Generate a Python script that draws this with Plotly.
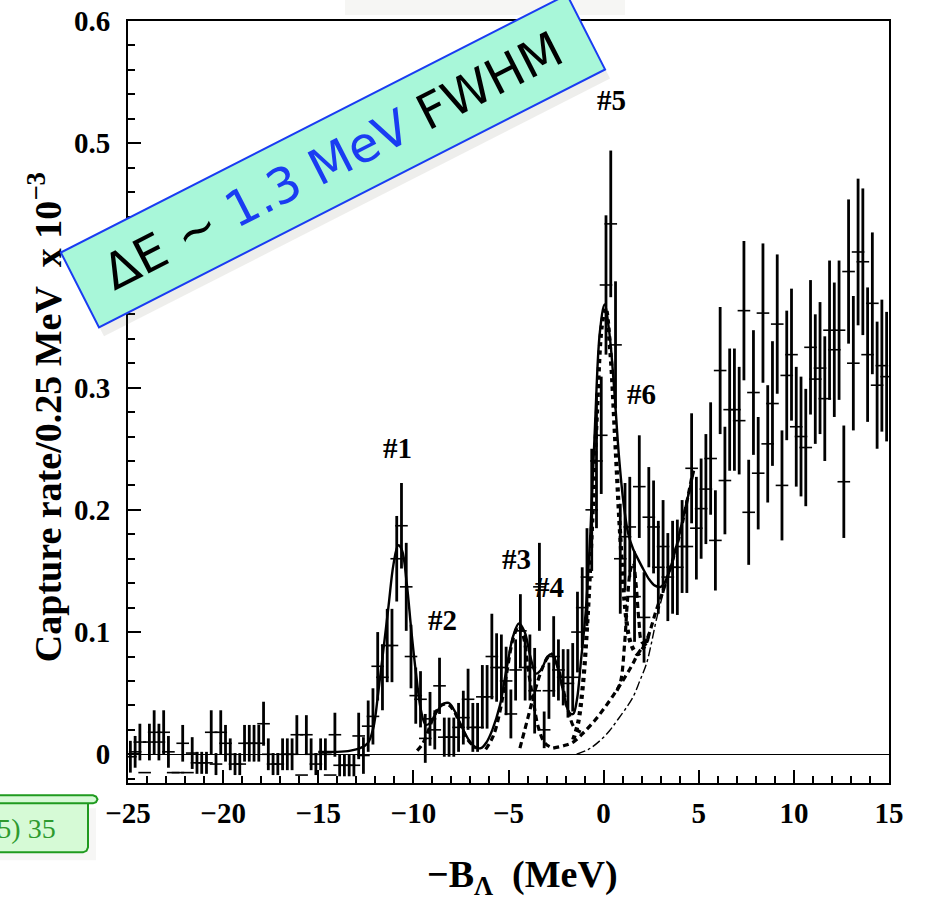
import plotly.graph_objects as go

# ---------------- data ----------------
# histogram: 0.25 MeV bins, first bin centre at -24.875 MeV
bin_first_center = -24.875
bin_width = 0.25

rate = [
    -0.002, 0.002, 0.010, -0.015, 0.010, 0.018, 0.010, 0.018, 0.002, -0.015,
    -0.015, 0.009, -0.015, 0.001, -0.007, -0.007, -0.007, 0.018, -0.008, 0.018,
    0.009, 0.000, -0.008, -0.008, 0.009, 0.009, 0.009, 0.009, 0.025, 0.000,
    -0.008, -0.008, 0.000, 0.000, 0.000, 0.016, -0.017, 0.016, 0.000, -0.008,
    0.000, 0.000, -0.017, 0.016, -0.009, -0.009, -0.009, -0.009, 0.015, -0.001,
    0.023, 0.031, 0.072, 0.063, 0.089, 0.089, 0.160, 0.187, 0.137, 0.080,
    0.048, 0.045, 0.013, 0.029, 0.020, 0.056, 0.014, 0.014, 0.014, 0.022,
    0.030, 0.045, 0.022, 0.022, 0.047, 0.047, 0.080, 0.071, 0.071, 0.060,
    0.033, 0.069, 0.101, 0.071, 0.071, 0.052, 0.137, 0.020, 0.052, 0.080,
    0.069, 0.063, 0.058, 0.063, 0.100, 0.120, 0.145, 0.200, 0.240, 0.261,
    0.384, 0.434, 0.335, 0.160, 0.178, 0.186, 0.129, 0.219, 0.112, 0.194,
    0.186, 0.153, 0.170, 0.145, 0.153, 0.153, 0.170, 0.170, 0.234, 0.185,
    0.201, 0.217, 0.242, 0.175, 0.314, 0.224, 0.282, 0.282, 0.273, 0.363,
    0.198, 0.296, 0.230, 0.361, 0.254, 0.287, 0.352, 0.220, 0.310, 0.327,
    0.268, 0.260, 0.251, 0.333, 0.307, 0.316, 0.291, 0.347, 0.331, 0.347,
    0.223, 0.395, 0.320, 0.411, 0.403, 0.327, 0.369, 0.302, 0.318, 0.309,
]
rate_err = [
    0.013, 0.013, 0.015, 0.000, 0.015, 0.018, 0.015, 0.018, 0.013, 0.000,
    0.000, 0.015, 0.000, 0.013, 0.009, 0.009, 0.009, 0.018, 0.009, 0.018,
    0.015, 0.013, 0.009, 0.009, 0.015, 0.015, 0.015, 0.015, 0.018, 0.013,
    0.009, 0.009, 0.013, 0.013, 0.013, 0.016, 0.000, 0.016, 0.013, 0.009,
    0.013, 0.013, 0.000, 0.018, 0.009, 0.009, 0.009, 0.009, 0.019, 0.015,
    0.021, 0.023, 0.028, 0.027, 0.030, 0.030, 0.035, 0.035, 0.036, 0.026,
    0.023, 0.023, 0.020, 0.022, 0.016, 0.023, 0.016, 0.016, 0.016, 0.020,
    0.022, 0.025, 0.020, 0.020, 0.026, 0.026, 0.035, 0.028, 0.027, 0.028,
    0.020, 0.025, 0.030, 0.027, 0.027, 0.035, 0.036, 0.015, 0.023, 0.033,
    0.025, 0.023, 0.028, 0.028, 0.033, 0.033, 0.040, 0.050, 0.055, 0.048,
    0.057, 0.060, 0.052, 0.045, 0.044, 0.041, 0.037, 0.042, 0.037, 0.041,
    0.038, 0.038, 0.038, 0.036, 0.038, 0.039, 0.038, 0.038, 0.045, 0.042,
    0.041, 0.045, 0.046, 0.041, 0.052, 0.044, 0.050, 0.050, 0.044, 0.057,
    0.043, 0.051, 0.046, 0.057, 0.048, 0.051, 0.057, 0.045, 0.053, 0.054,
    0.049, 0.049, 0.048, 0.055, 0.053, 0.054, 0.051, 0.057, 0.055, 0.057,
    0.046, 0.059, 0.055, 0.060, 0.060, 0.055, 0.058, 0.052, 0.054, 0.053,
]

# total fit (solid)
fit_x = [-15.0, -14.0, -13.3, -12.8, -12.4, -12.1, -11.85, -11.58, -11.3, -11.05,
         -10.8, -10.6, -10.35, -10.1, -9.83, -9.6, -9.35, -9.1, -8.8, -8.45,
         -8.15, -7.85, -7.5, -7.1, -6.75, -6.45, -6.15, -5.85, -5.45, -5.1,
         -4.75, -4.45, -4.15, -3.85, -3.55, -3.25, -2.95, -2.7, -2.4, -2.1,
         -1.8, -1.6, -1.4, -1.2, -0.95, -0.7, -0.45, -0.2, 0.05, 0.3,
         0.55, 0.8, 1.05, 1.3, 1.55, 1.8, 2.1, 2.4, 2.7, 3.0,
         3.3, 3.6, 3.9, 4.2, 4.5, 4.75]
fit_y = [0.002, 0.002, 0.003, 0.005, 0.009, 0.022, 0.050, 0.085, 0.122, 0.155,
         0.171, 0.167, 0.140, 0.100, 0.062, 0.036, 0.024, 0.026, 0.034, 0.041,
         0.042, 0.036, 0.024, 0.012, 0.006, 0.005, 0.010, 0.020, 0.040, 0.070,
         0.097, 0.107, 0.100, 0.080, 0.066, 0.070, 0.080, 0.082, 0.070, 0.050,
         0.034, 0.033, 0.045, 0.075, 0.115, 0.180, 0.270, 0.345, 0.368, 0.345,
         0.300, 0.245, 0.205, 0.180, 0.168, 0.160, 0.151, 0.143, 0.138, 0.137,
         0.143, 0.157, 0.175, 0.195, 0.215, 0.232]

# background + single peaks (thick dashed / dotted)
p2_x = [-9.8, -9.5, -9.2, -8.9, -8.55, -8.2, -7.85, -7.5, -7.1, -6.7]
p2_y = [0.003, 0.009, 0.020, 0.032, 0.040, 0.041, 0.035, 0.023, 0.011, 0.005]
p3_x = [-6.2, -5.8, -5.45, -5.1, -4.75, -4.45, -4.2, -3.96, -3.7, -3.43, -3.08, -2.65]
p3_y = [0.004, 0.015, 0.035, 0.066, 0.095, 0.105, 0.095, 0.069, 0.044, 0.022, 0.009, 0.005]
p4_x = [-4.4, -3.96, -3.61, -3.26, -2.95, -2.74, -2.45, -2.15, -1.85, -1.55, -1.2]
p4_y = [0.005, 0.031, 0.052, 0.069, 0.079, 0.082, 0.074, 0.055, 0.035, 0.022, 0.018]
p5_x = [-1.6, -1.35, -1.1, -0.85, -0.6, -0.35, -0.1, 0.1, 0.35, 0.6, 0.85, 1.1, 1.35, 1.6, 1.8, 2.05, 2.3]
p5_y = [0.012, 0.025, 0.055, 0.110, 0.190, 0.280, 0.350, 0.365, 0.330, 0.260, 0.185, 0.125, 0.095, 0.085, 0.082, 0.086, 0.094]
p6_x = [0.7, 0.9, 1.1, 1.25, 1.4, 1.55, 1.7, 1.85, 2.0, 2.2, 2.4]
p6_y = [0.052, 0.060, 0.090, 0.125, 0.150, 0.157, 0.140, 0.110, 0.092, 0.090, 0.100]
bg_x = [-2.65, -2.1, -1.6, -1.1, -0.5, 0.0, 0.5, 1.0, 1.5, 1.8, 2.25, 2.77, 3.3, 4.0, 4.7]
bg_y = [0.005, 0.007, 0.010, 0.017, 0.027, 0.037, 0.048, 0.060, 0.073, 0.082, 0.093, 0.118, 0.142, 0.180, 0.232]
# quasi-free component (thin dash-dot)
qf_x = [-1.42, -0.8, -0.2, 0.3, 0.68, 1.1, 1.55, 1.9, 2.25, 2.5, 2.77, 3.1, 3.5, 4.0, 4.4, 4.7]
qf_y = [0.000, 0.004, 0.011, 0.019, 0.027, 0.036, 0.047, 0.060, 0.074, 0.090, 0.110, 0.130, 0.152, 0.180, 0.210, 0.232]

peak_labels = ["#1", "#2", "#3", "#4", "#5", "#6"]
peak_label_x = [-10.81, -8.45, -4.56, -2.82, 0.43, 2.01]
peak_label_y = [0.251, 0.110, 0.160, 0.137, 0.535, 0.295]

x_tickvals = [-25, -20, -15, -10, -5, 0, 5, 10, 15]
x_ticktext = ["\u221225", "\u221220", "\u221215", "\u221210", "\u22125", "0", "5", "10", "15"]

# ---------------- figure ----------------
W, H = 926, 901
L, R, T, B = 128, 889, 21, 782.7


def px_x(px):
    return (px - L) / (R - L)


def px_y(py):
    return (B - py) / (B - T)


SERIF = "Liberation Serif"
fig = go.Figure()

fig.add_trace(go.Scatter(
    y=rate, x0=bin_first_center, dx=bin_width, mode="markers",
    marker=dict(symbol="line-ew", size=9, color="black", line=dict(width=1.6, color="black")),
    error_y=dict(type="data", array=rate_err, visible=True, thickness=2.8, width=0, color="black"),
    hoverinfo="skip"))

line_black = "black"
fig.add_trace(go.Scatter(x=qf_x, y=qf_y, mode="lines", line=dict(color=line_black, width=1.4, dash="dashdot", shape="spline")))
fig.add_trace(go.Scatter(x=bg_x, y=bg_y, mode="lines", line=dict(color=line_black, width=3.2, dash="6px,4px", shape="spline")))
for xs, ys in [(p2_x, p2_y), (p3_x, p3_y), (p4_x, p4_y), (p6_x, p6_y)]:
    fig.add_trace(go.Scatter(x=xs, y=ys, mode="lines", line=dict(color=line_black, width=3.2, dash="6px,4px", shape="spline")))
fig.add_trace(go.Scatter(x=p5_x, y=p5_y, mode="lines", line=dict(color=line_black, width=4.2, dash="dot", shape="spline")))
fig.add_trace(go.Scatter(x=fit_x, y=fit_y, mode="lines", line=dict(color=line_black, width=2.4, shape="spline")))

annotations = []
for t, ax_, ay_ in zip(peak_labels, peak_label_x, peak_label_y):
    annotations.append(dict(x=ax_, y=ay_, xref="x", yref="y", text=t, showarrow=False,
                            font=dict(family=SERIF, size=29, color="black", weight="bold")))

# axis titles
annotations.append(dict(x=px_x(45), y=px_y(417), xref="paper", yref="paper",
                        text="Capture rate/0.25 MeV\u00a0\u00a0x 10<sup>\u22123</sup>",
                        textangle=-90, showarrow=False, xanchor="center", yanchor="middle",
                        font=dict(family=SERIF, size=38, color="black", weight="bold")))
annotations.append(dict(x=px_x(522), y=px_y(877), xref="paper", yref="paper",
                        text="\u2212B<sub>\u039b</sub>\u00a0\u00a0(MeV)",
                        showarrow=False, xanchor="center", yanchor="middle",
                        font=dict(family=SERIF, size=38, color="black", weight="bold")))

# rotated label box (shadow then box)
box_text = "\u0394E ~ <span style='color:#1a3cf2'>1.3 MeV</span> FWHM"
cx, cy = 333, 161
annotations.append(dict(x=px_x(cx + 5), y=px_y(cy + 9), xref="paper", yref="paper",
                        text=box_text, textangle=-27, showarrow=False,
                        xanchor="center", yanchor="middle", width=560, height=76,
                        bgcolor="rgba(90,90,70,0.10)", borderwidth=0, borderpad=4,
                        font=dict(family="DejaVu Sans", size=49, color="rgba(0,0,0,0)")))
annotations.append(dict(x=px_x(cx), y=px_y(cy), xref="paper", yref="paper",
                        text=box_text, textangle=-27, showarrow=False,
                        xanchor="center", yanchor="middle", width=560, height=76,
                        bgcolor="#a8f7d9", bordercolor="#1a3cf2", borderwidth=2, borderpad=3,
                        font=dict(family="DejaVu Sans", size=49, color="black")))

# green slide box text
annotations.append(dict(x=px_x(58), y=px_y(828), xref="paper", yref="paper",
                        text="(5) 35", showarrow=False, xanchor="right", yanchor="middle",
                        font=dict(family=SERIF, size=28, color="#2e9a2e")))


def pth(points):
    s = ""
    for i, (a, b) in enumerate(points):
        s += ("M" if i == 0 else "L") + f"{px_x(a):.5f},{px_y(b):.5f} "
    return s + "Z"


shapes = []
# faint shadow blob at top
shapes.append(dict(type="rect", xref="paper", yref="paper", x0=px_x(345), x1=px_x(625), y0=px_y(15), y1=px_y(-10),
                   fillcolor="rgba(215,215,205,0.22)", line=dict(width=0), layer="below"))
# green box shadow
shapes.append(dict(type="rect", xref="paper", yref="paper", x0=px_x(-5), x1=px_x(96), y0=px_y(860), y1=px_y(808),
                   fillcolor="rgba(180,180,170,0.12)", line=dict(width=0), layer="below"))
# green box body
shapes.append(dict(type="path", xref="paper", yref="paper",
                   path=pth([(-5, 802), (88, 802), (88, 847), (86.5, 850.5), (83, 852), (-5, 852)]),
                   fillcolor="#d6fad6", line=dict(color="#1f9a1f", width=2)))
# scroll bar on top
shapes.append(dict(type="path", xref="paper", yref="paper",
                   path=pth([(-5, 795), (93, 795), (96, 796.2), (97.5, 799), (96, 801.8), (93, 803), (-5, 803)]),
                   fillcolor="#d6fad6", line=dict(color="#1f9a1f", width=2)))

fig.update_layout(
    width=W, height=H,
    margin=dict(l=L, r=W - R, t=T, b=H - B, autoexpand=False),
    paper_bgcolor="white", plot_bgcolor="white", showlegend=False,
    annotations=annotations, shapes=shapes,
    xaxis=dict(range=[-25, 15], showline=True, linecolor="black", linewidth=2, mirror=True,
               showgrid=False, zeroline=False, ticks="inside", ticklen=13, tickwidth=1.5, tickcolor="black",
               tickmode="array", tickvals=x_tickvals, ticktext=x_ticktext, ticklabelstandoff=3,
               minor=dict(ticks="inside", ticklen=7, tickwidth=1.5, tickcolor="black", tickmode="linear", tick0=0, dtick=1),
               tickfont=dict(family=SERIF, size=29, color="black", weight="bold")),
    yaxis=dict(range=[-0.0235, 0.6], showline=True, linecolor="black", linewidth=2, mirror=True,
               showgrid=False, zeroline=True, zerolinecolor="black", zerolinewidth=1.3,
               ticks="inside", ticklen=13, tickwidth=1.5, tickcolor="black",
               tickmode="linear", tick0=0, dtick=0.1, ticklabelstandoff=10,
               minor=dict(ticks="inside", ticklen=7, tickwidth=1.5, tickcolor="black", tickmode="linear", tick0=0, dtick=0.02),
               tickfont=dict(family=SERIF, size=29, color="black", weight="bold")),
)

fig.write_html("out.html")
